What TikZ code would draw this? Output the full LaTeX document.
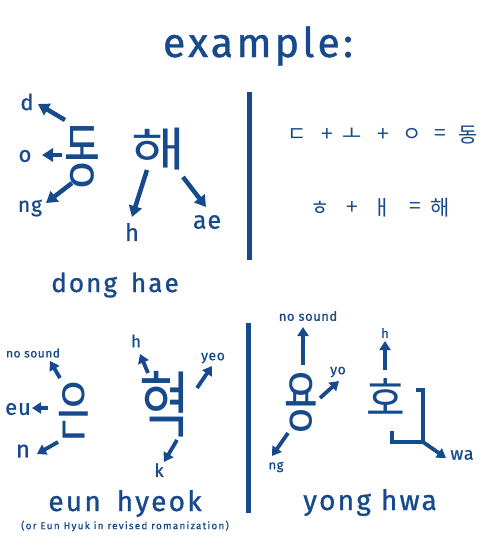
\documentclass[tikz,border=0pt]{standalone}
\usepackage{fontspec}
\setmainfont{Fira Sans}[FakeBold=0.7,LetterSpace=4]
\newfontfamily\wide{Fira Sans}[LetterSpace=8,FakeBold=1.0]
\newfontfamily\notefont{Fira Sans}[LetterSpace=12,FakeBold=0.5]
\newfontfamily\kr{Noto Sans CJK KR}
\usetikzlibrary{arrows.meta}
\definecolor{ink}{RGB}{22,74,140}
\newcommand\hgl[3]{\scalebox{#1}[#2]{\kr\fontsize{50}{50}\selectfont #3}}
\tikzset{
  lab/.style={text=ink, inner sep=0pt, font=\fontsize{#1}{#1}\selectfont},
  big/.style={text=ink, inner sep=0pt, anchor=base, font=\wide\fontsize{#1}{#1}\selectfont},
  glyph/.style={text=ink, inner sep=0pt},
  jamo/.style={text=ink, inner sep=0pt, font=\kr\fontsize{21}{21}\selectfont},
  arr/.style={draw=ink, line width=4.5pt, -{Triangle[width=13pt,length=11pt]}},
  arrs/.style={draw=ink, line width=3.8pt, -{Triangle[width=11pt,length=9pt]}},
  bar/.style={draw=ink, line width=5pt},
}
\begin{document}
\begin{tikzpicture}[x=1pt,y=-1pt]
\useasboundingbox[fill=white] (0,0) rectangle (500,551);
% title
\node[big=41] (title) at (258,57) {example:};
% separators
\coordinate (s1a) at (249,92); \coordinate (s1b) at (249,260);
\coordinate (s2a) at (248,323); \coordinate (s2b) at (248,513);
\draw[bar] (s1a) -- (s1b);
\draw[bar] (s2a) -- (s2b);
% ---------- dong hae ----------
\node[glyph] (dong) at (82.5,156.5) {\hgl{0.78}{1.4}{동}};
\node[glyph] (hae) at (158.5,149) {\hgl{1.18}{0.93}{해}};
\node[lab=22] (ld) at (27,102) {d};
\node[lab=22] (lo) at (25,156) {o};
\node[lab=21] (lng) at (30,208) {ng};
\node[lab=24] (lh) at (132,232) {h};
\node[lab=25] (lae) at (207,222) {ae};
\node[big=26] (donghae) at (115,292) {dong\hspace{14pt}hae};
\coordinate (a1s) at (65,120); \coordinate (a1t) at (38,104);
\coordinate (a2s) at (62,155); \coordinate (a2t) at (42,155);
\coordinate (a3s) at (72,183); \coordinate (a3t) at (46,203);
\coordinate (a4s) at (147,170); \coordinate (a4t) at (132,217);
\coordinate (a5s) at (183,177); \coordinate (a5t) at (206,207);
\draw[arr] (a1s) -- (a1t);
\draw[arr] (a2s) -- (a2t);
\draw[arr] (a3s) -- (a3t);
\draw[arr] (a4s) -- (a4t);
\draw[arr] (a5s) -- (a5t);
% ---------- composition ----------
\node[jamo] (j1) at (297,135) {ㄷ};
\node[jamo] (j2) at (327,135) {+};
\node[jamo] (j3) at (352,135) {ㅗ};
\node[jamo] (j4) at (383,135) {+};
\node[jamo] (j5) at (412,135) {ㅇ};
\node[jamo] (j6) at (440,135) {=};
\node[jamo] (j7) at (468,135) {동};
\node[jamo] (k1) at (320,208) {ㅎ};
\node[jamo] (k2) at (352,208) {+};
\node[jamo] (k3) at (382,208) {ㅐ};
\node[jamo] (k4) at (415,208) {=};
\node[jamo] (k5) at (440,208) {해};
% ---------- eun hyeok ----------
\node[glyph] (eun) at (74,411) {\hgl{0.71}{1.29}{은}};
\node[glyph] (hyeok) at (165,404.5) {\hgl{1.11}{1.44}{혁}};
\node[lab=12] (bns) at (33,353) {no sound};
\node[lab=22] (beu) at (18,409) {eu};
\node[lab=24] (bn) at (23,451) {n};
\node[lab=17] (bh) at (136,341) {h};
\node[lab=14] (byeo) at (213,358) {yeo};
\node[lab=18] (bk) at (159,470) {k};
\node[big=28] (eunhyeok) at (125,511) {eun\hspace{16pt}hyeok};
\node[text=ink, inner sep=0pt, font=\notefont\fontsize{10}{10}\selectfont] (note) at (125,526) {(or Eun Hyuk in revised romanization)};
\coordinate (b1s) at (60,378); \coordinate (b1t) at (50,361);
\coordinate (b2s) at (48,408); \coordinate (b2t) at (32,408);
\coordinate (b3s) at (58,442); \coordinate (b3t) at (37,454);
\coordinate (b4s) at (148,373); \coordinate (b4t) at (140,354);
\coordinate (b5s) at (197,388); \coordinate (b5t) at (212,366);
\coordinate (b6s) at (177,440); \coordinate (b6t) at (164,462);
\draw[arrs] (b1s) -- (b1t);
\draw[arrs] (b2s) -- (b2t);
\draw[arrs] (b3s) -- (b3t);
\draw[arrs] (b4s) -- (b4t);
\draw[arrs] (b5s) -- (b5t);
\draw[arrs] (b6s) -- (b6t);
% ---------- yong hwa ----------
\node[glyph] (yong) at (301.5,402.5) {\hgl{0.73}{1.31}{용}};
\node[glyph] (ho) at (386,397.5) {\hgl{0.84}{0.91}{호}};
\node[lab=13] (cns) at (308,316) {no sound};
\node[lab=14] (cyo) at (338,372) {yo};
\node[lab=13] (cng) at (276,467) {ng};
\node[lab=13] (ch) at (385,333) {h};
\node[lab=18] (cwa) at (462,455) {wa};
\node[big=28] (yonghwa) at (370,510) {yong\hspace{10pt}hwa};
\coordinate (w1) at (416,390); \coordinate (w2) at (423,390);
\coordinate (w3) at (423,442); \coordinate (w4) at (392,442);
\coordinate (w5) at (392,431);
\draw[bar, line width=4.5pt] (w1) -- (w2) -- (w3) -- (w4) -- (w5);
\coordinate (c1s) at (303,365); \coordinate (c1t) at (303,327);
\coordinate (c2s) at (320,398); \coordinate (c2t) at (339,381);
\coordinate (c3s) at (288,433); \coordinate (c3t) at (272,456);
\coordinate (c4s) at (385,370); \coordinate (c4t) at (385,341);
\coordinate (c5s) at (423,442); \coordinate (c5t) at (446,458);
\draw[arrs] (c1s) -- (c1t);
\draw[arrs] (c2s) -- (c2t);
\draw[arrs] (c3s) -- (c3t);
\draw[arrs] (c4s) -- (c4t);
\draw[arrs] (c5s) -- (c5t);
\end{tikzpicture}
\end{document}
